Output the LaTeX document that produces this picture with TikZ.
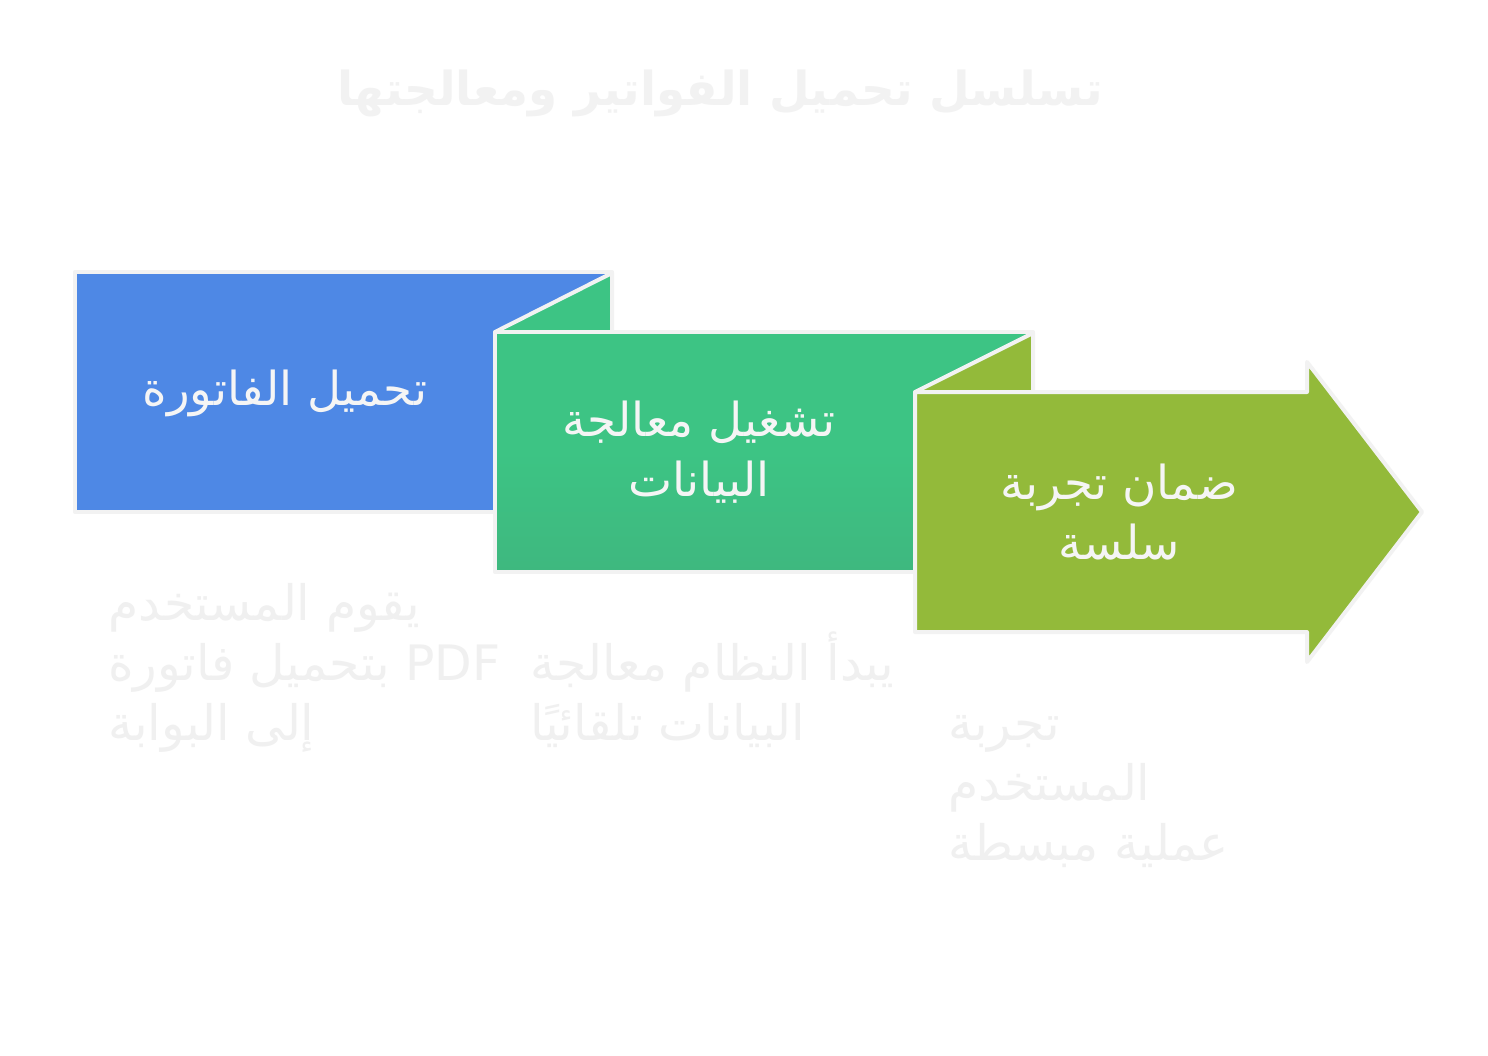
\documentclass[tikz,border=0pt]{standalone}
\usepackage{fontspec}
\TeXXeTstate=1
\newfontfamily\arabicfont[Script=Arabic]{DejaVu Sans}
\newfontfamily\arabicbold[Script=Arabic]{DejaVu Sans Bold}
\definecolor{bluebox}{HTML}{4E88E5}
\definecolor{greenbox}{HTML}{3DC484}
\definecolor{greendark}{HTML}{3EB87F}
\definecolor{olivebox}{HTML}{93BA3A}
\definecolor{edgegray}{HTML}{F2F2F2}
\definecolor{boxtextc}{HTML}{F5F5F5}
\definecolor{fainttext}{HTML}{F0F0F0}
\tikzset{
  shapeedge/.style={draw=edgegray, line width=4bp, line join=round},
  boxtext/.style={text=boxtextc, font=\arabicfont\fontsize{47}{60}\selectfont, align=center, inner sep=0pt},
  desctext/.style={text=fainttext, font=\arabicfont\fontsize{49}{60}\selectfont, align=left, inner sep=0pt, anchor=base west},
  titletext/.style={text=edgegray, font=\arabicbold\fontsize{47}{56}\selectfont, inner sep=0pt}
}
\begin{document}
\begin{tikzpicture}[x=1bp, y=-1bp]
\useasboundingbox[fill=white] (0,0) rectangle (1488,1055);
% title
\node[titletext] (title) at (720,93) {\beginR تسلسل تحميل الفواتير ومعالجتها\endR};
% box 1
\path[shapeedge, fill=bluebox] (75,272) rectangle (612,512);
% fold of box 2
\path[shapeedge, fill=greenbox] (495,332) -- (612,273) -- (612,332) -- cycle;
% box 2
\path[shapeedge, top color=greenbox, bottom color=greendark, middle color=greenbox] (495,332) rectangle (1033,572);
% fold of arrow
\path[shapeedge, fill=olivebox] (915,392) -- (1033,333) -- (1033,392) -- cycle;
% arrow
\path[shapeedge, fill=olivebox] (915,392) -- (1307,392) -- (1307,362) -- (1422,512) -- (1307,662) -- (1307,632) -- (915,632) -- cycle;
% box texts
\node[boxtext] (t1) at (285,393) {\beginR تحميل الفاتورة\endR};
\node[boxtext] (t2) at (699,452) {\beginR تشغيل معالجة\endR\\\beginR البيانات\endR};
\node[boxtext] (t3) at (1119,512) {\beginR ضمان تجربة\endR\\\beginR سلسة\endR};
% descriptions
\node[desctext] (d1) at (108,740) {\beginR يقوم المستخدم\endR\\\beginR بتحميل فاتورة\endR\ PDF\\\beginR إلى البوابة\endR};
\node[desctext] (d2) at (530,740) {\beginR يبدأ النظام معالجة\endR\\\beginR البيانات تلقائيًا\endR};
\node[desctext] (d3) at (948,860) {\beginR تجربة\endR\\\beginR المستخدم\endR\\\beginR عملية مبسطة\endR};
\end{tikzpicture}
\end{document}
